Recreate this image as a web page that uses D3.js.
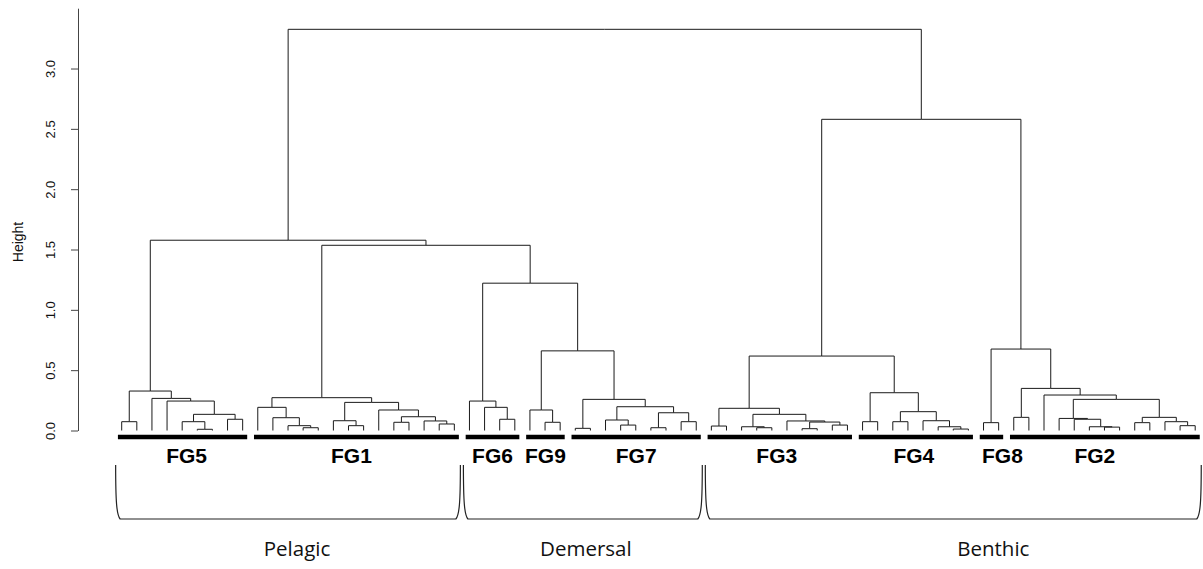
<!DOCTYPE html>
<html>
<head>
<meta charset="utf-8">
<script src="https://cdn.jsdelivr.net/npm/d3@7"></script>
<style>
  body { margin: 0; background: #fff; }
  svg { display: block; }
</style>
</head>
<body>
<div id="chart"></div>
<script>
// each subtree is [height, left, right]; 0 is a single leaf
const fg5 = [0.327, [0.073, 0, 0],
  [0.266, 0, [0.244, 0, [0.134, [0.073, 0, [0.01, 0, 0]], [0.093, 0, 0]]]]];
const fg1 = [0.272,
  [0.192, 0, [0.106, 0, [0.04, 0, [0.023, 0, 0]]]],
  [0.233, [0.081, 0, [0.04, 0, 0]],
    [0.17, 0, [0.114, [0.068, 0, 0], [0.079, 0, [0.054, 0, 0]]]]]];
const fg6 = [0.244, 0, [0.192, 0, [0.093, 0, 0]]];
const fg9 = [0.17, 0, [0.068, 0, 0]];
const fg7 = [0.258, [0.018, 0, 0],
  [0.197, [0.087, 0, [0.045, 0, 0]], [0.147, [0.023, 0, 0], [0.073, 0, 0]]]];
const fg3 = [0.184, [0.037, 0, 0],
  [0.134, [0.031, 0, [0.023, 0, 0]], [0.079, 0, [0.07, [0.015, 0, 0], [0.045, 0, 0]]]]];
const fg4 = [0.313, [0.073, 0, 0],
  [0.156, [0.073, 0, 0], [0.081, 0, [0.031, 0, [0.012, 0, 0]]]]];
const fg8 = [0.065, 0, 0];
const fg2 = [0.349, [0.109, 0, 0],
  [0.294, 0, [0.258,
    [0.1, 0, [0.093, 0, [0.031, 0, [0.028, 0, 0]]]],
    [0.109, [0.065, 0, 0], [0.073, 0, [0.04, 0, 0]]]]]];

const groupNames = ["FG5", "FG1", "FG6", "FG9", "FG7", "FG3", "FG4", "FG8", "FG2"];
const groupTrees = [fg5, fg1, fg6, fg9, fg7, fg3, fg4, fg8, fg2];

// joins between the groups
const joins = [3.325,
  [1.577, "FG5", [1.535, "FG1", [1.221, "FG6", [0.66, "FG9", "FG7"]]]],
  [2.579, [0.617, "FG3", "FG4"], [0.675, "FG8", "FG2"]]];

const guildNames = ["Pelagic", "Demersal", "Benthic"];
const guildMembers = [["FG5", "FG1"], ["FG6", "FG9", "FG7"], ["FG3", "FG4", "FG8", "FG2"]];

const yTicks = [0, 0.5, 1, 1.5, 2, 2.5, 3];

const width = 1203, height = 569;

function build(d, group) {
  if (typeof d === "string") return build(groupTrees[groupNames.indexOf(d)], d);
  if (d === 0) return { h: 0, group: group };
  return { h: d[0], group: group, children: [build(d[1], group), build(d[2], group)] };
}

const root = d3.hierarchy(build(joins, null));
const leaves = root.leaves();
const n = leaves.length;
d3.cluster().size([n, 1]).separation(() => 1)(root);

const x = d3.scaleLinear().domain([0.5, n - 0.5]).range([121.7, 1195.2]);
const y = d3.scaleLinear().domain([0, 3.5]).range([430.5, 8.2]);

const svg = d3.select("#chart")
  .append("svg")
  .attr("width", width)
  .attr("height", height)
  .style("background", "#fff");

// y axis
const axis = svg.append("g")
  .attr("transform", "translate(78,0)")
  .call(d3.axisLeft(y).tickValues(yTicks).tickSize(7).tickSizeOuter(0)
    .tickFormat(d3.format(".1f")));
axis.select(".domain").attr("stroke", "#444");
axis.selectAll(".tick line").attr("stroke", "#444");
axis.selectAll(".tick text")
  .attr("transform", "rotate(-90)")
  .attr("x", 0)
  .attr("y", -23.5)
  .attr("dy", 0)
  .attr("text-anchor", "middle")
  .style("font-family", "'Liberation Sans', Arial, sans-serif")
  .style("font-size", "13px")
  .attr("fill", "#111");

svg.append("text")
  .attr("transform", "translate(23,242) rotate(-90)")
  .attr("text-anchor", "middle")
  .style("font-family", "'Liberation Sans', Arial, sans-serif")
  .style("font-size", "14px")
  .attr("fill", "#111")
  .text("Height");

// dendrogram links
svg.append("g")
  .selectAll("path")
  .data(root.links())
  .join("path")
  .attr("d", (l) => `M${x(l.target.x)},${y(l.target.data.h)}V${y(l.source.data.h)}H${x(l.source.x)}`)
  .attr("fill", "none")
  .attr("stroke", "#1a1a1a")
  .attr("stroke-width", 1);

// group bars and names
const groupSpan = (names) => {
  const xs = leaves.filter((l) => names.includes(l.data.group)).map((l) => l.x);
  return [d3.min(xs), d3.max(xs)];
};
const labelNudge = { FG5: 4, FG1: -5, FG3: -3, FG4: -2, FG8: 11, FG2: -10 };

groupNames.forEach((name) => {
  const [a, b] = groupSpan([name]);
  const x0 = x(a - 0.25), x1 = x(b + 0.3);
  svg.append("line")
    .attr("x1", x0).attr("x2", x1)
    .attr("y1", 437).attr("y2", 437)
    .attr("stroke", "#000")
    .attr("stroke-width", 4.5);
  svg.append("text")
    .attr("x", (x0 + x1) / 2 + (labelNudge[name] || 0))
    .attr("y", 463)
    .attr("text-anchor", "middle")
    .style("font-family", "'Liberation Sans', Arial, sans-serif")
    .style("font-weight", "bold")
    .style("font-size", "21px")
    .attr("fill", "#000")
    .text(name);
});

// guild braces
const guildNudge = { Pelagic: 9, Demersal: 3, Benthic: 40 };
guildNames.forEach((name, i) => {
  const [a, b] = groupSpan(guildMembers[i]);
  const lo = x(a - 0.4), hi = x(b + 0.4);
  svg.append("path")
    .attr("d", `M${lo},465 C${lo},502 ${lo + 1},515 ${lo + 4.5},519 H${hi - 4.5} C${hi - 1},515 ${hi},502 ${hi},465`)
    .attr("fill", "none")
    .attr("stroke", "#222")
    .attr("stroke-width", 1.2);
  svg.append("text")
    .attr("x", (lo + hi) / 2 + guildNudge[name])
    .attr("y", 556)
    .attr("text-anchor", "middle")
    .style("font-family", "'Open Sans', sans-serif")
    .style("font-size", "20.5px")
    .attr("fill", "#111")
    .text(name);
});
</script>
</body>
</html>
